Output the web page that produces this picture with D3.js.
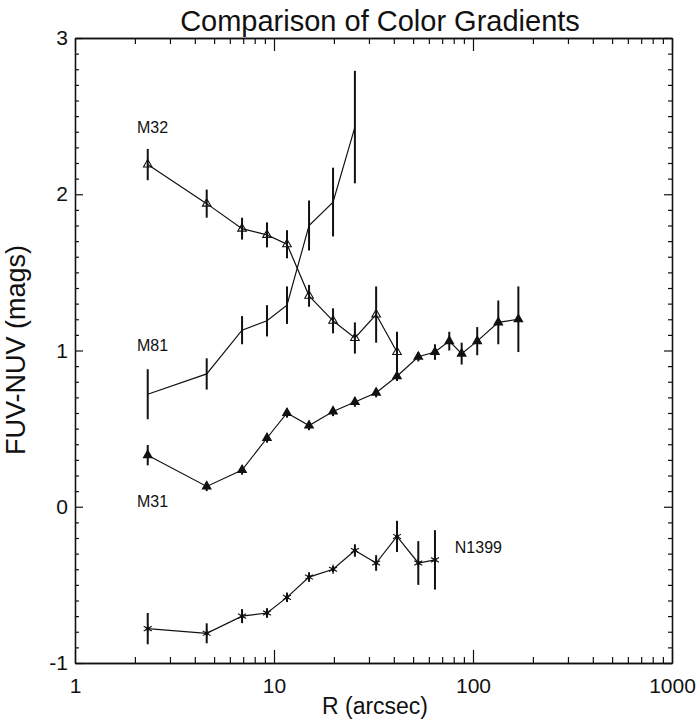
<!DOCTYPE html>
<html>
<head>
<meta charset="utf-8">
<script src="https://cdn.jsdelivr.net/npm/d3@7"></script>
<style>
  body { margin: 0; background: #fff; }
  svg { font-family: "Liberation Sans", Arial, sans-serif; }
</style>
</head>
<body>
<svg id="canvas"></svg>
<script>
// radii shared by all four galaxies (arcsec)
let radii = [2.32, 4.59, 6.91, 9.22, 11.62, 15.0, 19.8, 25.5, 32.6, 41.5, 53.1, 64.4, 76.0, 87.7, 105, 134, 169];

let m32Color = [2.19, 1.94, 1.78, 1.74, 1.68, 1.35, 1.19, 1.08, 1.23, 0.99];
let m32Err   = [0.10, 0.09, 0.07, 0.08, 0.09, 0.07, 0.08, 0.10, 0.18, 0.13];

let m81Color = [0.72, 0.85, 1.13, 1.19, 1.29, 1.80, 1.95, 2.43];
let m81Err   = [0.16, 0.10, 0.09, 0.10, 0.12, 0.16, 0.22, 0.36];

let m31Color = [0.33, 0.13, 0.235, 0.44, 0.60, 0.52, 0.61, 0.67, 0.73, 0.835, 0.96, 0.99, 1.06, 0.98, 1.06, 1.18, 1.20];
let m31Err   = [0.065, 0.03, 0.03, 0.03, 0.03, 0.03, 0.03, 0.03, 0.03, 0.03, 0.03, 0.05, 0.06, 0.07, 0.09, 0.14, 0.21];

let n1399Color = [-0.78, -0.81, -0.70, -0.68, -0.58, -0.45, -0.40, -0.28, -0.36, -0.19, -0.36, -0.34];
let n1399Err   = [0.10, 0.064, 0.045, 0.03, 0.03, 0.03, 0.02, 0.04, 0.05, 0.10, 0.14, 0.19];

let labelNames = ["M32", "M81", "M31", "N1399"];
let labelR     = [2.05, 2.05, 2.05, 81];
let labelColor = [2.39, 1.0, 0.0, -0.295];

let xTicks = [1, 10, 100, 1000];
let xMinorTicks = [2, 3, 4, 5, 6, 7, 8, 9, 20, 30, 40, 50, 60, 70, 80, 90, 200, 300, 400, 500, 600, 700, 800, 900];
let yTicks = [-1, 0, 1, 2, 3];
let yMinorTicks = [-0.9, -0.8, -0.7, -0.6, -0.5, -0.4, -0.3, -0.2, -0.1,
                   0.1, 0.2, 0.3, 0.4, 0.5, 0.6, 0.7, 0.8, 0.9,
                   1.1, 1.2, 1.3, 1.4, 1.5, 1.6, 1.7, 1.8, 1.9,
                   2.1, 2.2, 2.3, 2.4, 2.5, 2.6, 2.7, 2.8, 2.9];

let width = 697;
let height = 721;
let padLeft = 75;
let padRight = 25;
let padTop = 38;
let padBottom = 58;

let canvas = d3.select("#canvas")
canvas.attr("width", width);
canvas.attr("height", height);

let xScale = d3.scaleLog()
               .domain([1, 1000])
               .range([padLeft, width - padRight]);
let yScale = d3.scaleLinear()
               .domain([-1, 3])
               .range([height - padBottom, padTop]);

let series = (colors, errs) => colors.map((c, i) => ({r: radii[i], v: c, e: errs[i]}));

let drawAxes = () => {
    let xAxis = d3.axisBottom(xScale).tickValues(xTicks).tickFormat((d) => String(d))
                  .tickSize(-13).tickSizeOuter(0).tickPadding(15);
    let xMinor = d3.axisBottom(xScale).tickValues(xMinorTicks).tickFormat("")
                   .tickSize(-6).tickSizeOuter(0);
    let xTop = d3.axisTop(xScale).tickValues(xTicks).tickFormat("")
                 .tickSize(-13).tickSizeOuter(0);
    let xTopMinor = d3.axisTop(xScale).tickValues(xMinorTicks).tickFormat("")
                      .tickSize(-6).tickSizeOuter(0);

    // plain hyphen for the -1 label, as in the original plot
    let yAxis = d3.axisLeft(yScale).tickValues(yTicks).tickFormat((d) => String(d))
                  .tickSize(-8).tickSizeOuter(0).tickPadding(7);
    let yMinor = d3.axisLeft(yScale).tickValues(yMinorTicks).tickFormat("")
                   .tickSize(-4).tickSizeOuter(0);
    let yRight = d3.axisRight(yScale).tickValues(yTicks).tickFormat("")
                   .tickSize(-8).tickSizeOuter(0);
    let yRightMinor = d3.axisRight(yScale).tickValues(yMinorTicks).tickFormat("")
                        .tickSize(-4).tickSizeOuter(0);

    let bottom = "translate(0, " + (height - padBottom) + ")";
    let top = "translate(0, " + padTop + ")";
    let left = "translate(" + padLeft + ", 0)";
    let right = "translate(" + (width - padRight) + ", 0)";

    canvas.append("g").attr("id", "x-axis").attr("transform", bottom).call(xAxis);
    canvas.append("g").attr("transform", bottom).call(xMinor);
    canvas.append("g").attr("transform", top).call(xTop);
    canvas.append("g").attr("transform", top).call(xTopMinor);
    canvas.append("g").attr("id", "y-axis").attr("transform", left).call(yAxis);
    canvas.append("g").attr("transform", left).call(yMinor);
    canvas.append("g").attr("transform", right).call(yRight);
    canvas.append("g").attr("transform", right).call(yRightMinor);

    canvas.selectAll(".domain").attr("stroke", "#111").attr("stroke-width", 1.3);
    canvas.selectAll(".tick line").attr("stroke", "#111").attr("stroke-width", 1.2);
    canvas.selectAll(".tick text")
          .attr("font-size", 21)
          .attr("font-family", "'Liberation Sans', Arial, sans-serif")
          .attr("fill", "#111");
}

let drawSeries = (data, marker) => {
    let g = canvas.append("g");
    let line = d3.line()
                 .x((d) => xScale(d.r))
                 .y((d) => yScale(d.v));

    g.append("path")
     .datum(data)
     .attr("d", line)
     .attr("fill", "none")
     .attr("stroke", "#111")
     .attr("stroke-width", 1.2);

    g.selectAll(".err")
     .data(data)
     .enter()
     .append("line")
     .attr("class", "err")
     .attr("x1", (d) => xScale(d.r))
     .attr("x2", (d) => xScale(d.r))
     .attr("y1", (d) => yScale(d.v - d.e))
     .attr("y2", (d) => yScale(d.v + d.e))
     .attr("stroke", "#111")
     .attr("stroke-width", 2);

    let pts = g.selectAll(".pt")
               .data(data)
               .enter()
               .append("g")
               .attr("transform", (d) => "translate(" + xScale(d.r) + "," + yScale(d.v) + ")");

    if (marker == "filled") {
      pts.append("path")
         .attr("d", d3.symbol(d3.symbolTriangle).size(48))
         .attr("fill", "#111");
    } else if (marker == "open") {
      pts.append("path")
         .attr("d", d3.symbol(d3.symbolTriangle).size(32))
         .attr("fill", "none")
         .attr("stroke", "#111")
         .attr("stroke-width", 1.1);
    } else if (marker == "plus") {
      pts.append("path")
         .attr("d", d3.symbol(d3.symbolPlus).size(14))
         .attr("fill", "#111");
    } else {
      pts.append("path")
         .attr("d", d3.symbol(d3.symbolAsterisk).size(60))
         .attr("fill", "none")
         .attr("stroke", "#111")
         .attr("stroke-width", 1.1);
      pts.append("circle")
         .attr("r", 2)
         .attr("fill", "#111");
    }
}

let drawLabels = () => {
    canvas.selectAll(".galaxy")
          .data(labelNames)
          .enter()
          .append("text")
          .attr("class", "galaxy")
          .attr("x", (d, i) => xScale(labelR[i]))
          .attr("y", (d, i) => yScale(labelColor[i]))
          .attr("font-size", 16)
          .attr("fill", "#111")
          .text((d) => d);

    canvas.append("text")
          .attr("x", 380)
          .attr("y", 31)
          .attr("text-anchor", "middle")
          .attr("font-size", 29)
          .attr("fill", "#111")
          .text("Comparison of Color Gradients");

    canvas.append("text")
          .attr("x", 375)
          .attr("y", 714)
          .attr("text-anchor", "middle")
          .attr("font-size", 23)
          .attr("fill", "#111")
          .text("R (arcsec)");

    canvas.append("text")
          .attr("transform", "translate(25, 350) rotate(-90)")
          .attr("text-anchor", "middle")
          .attr("font-size", 27)
          .attr("fill", "#111")
          .text("FUV-NUV (mags)");
}

drawAxes();
drawSeries(series(m32Color, m32Err), "open");
drawSeries(series(m81Color, m81Err), "plus");
drawSeries(series(m31Color, m31Err), "filled");
drawSeries(series(n1399Color, n1399Err), "star");
drawLabels();
</script>
</body>
</html>
